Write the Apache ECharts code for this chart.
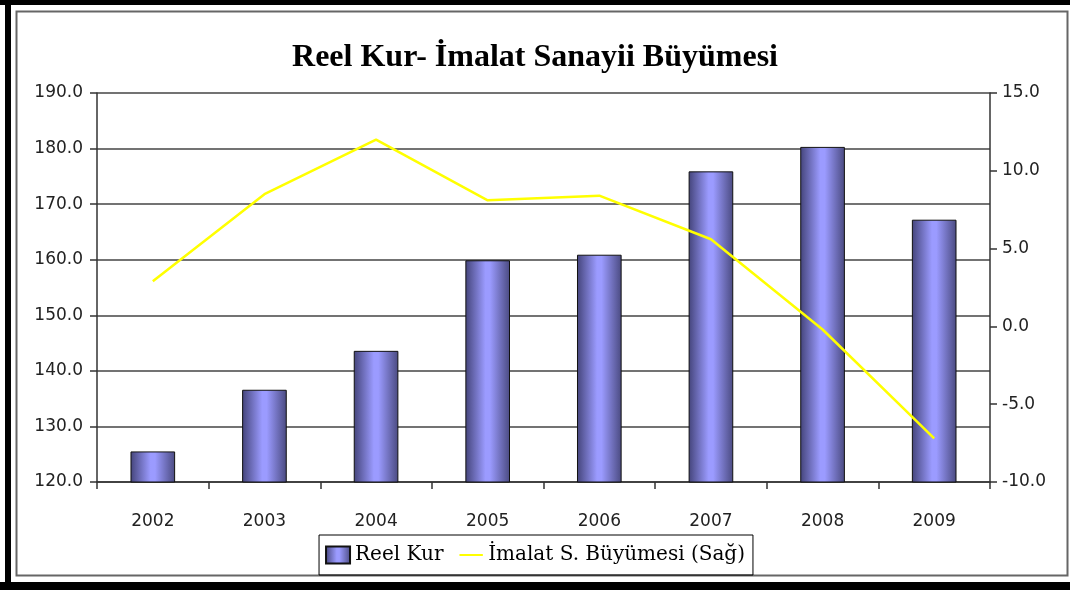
<!DOCTYPE html>
<html>
<head>
<meta charset="utf-8">
<script src="https://cdn.jsdelivr.net/npm/echarts@6/dist/echarts.min.js"></script>
<style>
  html, body { margin: 0; padding: 0; background: #fff; }
  #chart { width: 1070px; height: 590px; }
</style>
</head>
<body>
<div id="chart"></div>
<script>
var years = ['2002', '2003', '2004', '2005', '2006', '2007', '2008', '2009'];
var reelKur = [125.5, 136.6, 143.6, 159.9, 160.9, 175.9, 180.3, 167.2];
var imalat = [2.9, 8.5, 12.0, 8.1, 8.4, 5.6, -0.2, -7.2];

var dom = document.getElementById('chart');
var myChart = echarts.init(dom);

var barColor = new echarts.graphic.LinearGradient(0, 0, 1, 0, [
  {offset: 0, color: '#44447a'},
  {offset: 0.45, color: '#9b9bff'},
  {offset: 0.55, color: '#9b9bff'},
  {offset: 1, color: '#4a4a80'}
]);

// short horizontal line for the legend (padded bbox so it isn't stretched)
var lineIcon = 'path://M0,0L0.01,0M0,7L22,7L22,9L0,9ZM0,16L0.01,16';

var option = {
  backgroundColor: '#fff',
  animation: false,
  title: {
    text: 'Reel Kur- İmalat Sanayii Büyümesi',
    left: 'center',
    top: 37,
    textStyle: {
      fontFamily: 'Liberation Serif',
      fontWeight: 'bold',
      fontSize: 32,
      color: '#000'
    }
  },
  graphic: [
    // thick black outer frame
    {type: 'rect', shape: {x: 0, y: 0, width: 1070, height: 5}, style: {fill: '#000'}},
    {type: 'rect', shape: {x: 5, y: 0, width: 6, height: 590}, style: {fill: '#000'}},
    {type: 'rect', shape: {x: 0, y: 582, width: 1070, height: 8}, style: {fill: '#000'}},
    // thin gray inner border
    {type: 'rect', shape: {x: 16.5, y: 11.5, width: 1051, height: 564}, style: {fill: 'none', stroke: '#666', lineWidth: 2}}
  ],
  legend: {
    data: [
      {name: 'Reel Kur', icon: 'rect'},
      {name: 'İmalat S. Büyümesi (Sağ)', icon: lineIcon}
    ],
    bottom: 15,
    left: 'center',
    itemGap: 16,
    itemWidth: 24,
    itemHeight: 17,
    padding: [10, 8, 10, 6],
    borderColor: '#000',
    borderWidth: 1,
    textStyle: {
      fontFamily: 'DejaVu Serif',
      fontSize: 20,
      color: '#000'
    }
  },
  grid: {
    left: 97,
    right: 80,
    top: 93,
    bottom: 108
  },
  xAxis: {
    type: 'category',
    data: years,
    axisLine: {onZero: false, lineStyle: {color: '#333', width: 1.5}},
    axisTick: {show: true, length: 7, lineStyle: {color: '#333', width: 1.5}},
    axisLabel: {
      margin: 31,
      fontFamily: 'DejaVu Sans',
      fontSize: 17,
      color: '#222'
    }
  },
  yAxis: [
    {
      type: 'value',
      min: 120,
      max: 190,
      interval: 10,
      axisLine: {show: true, lineStyle: {color: '#333', width: 1.5}},
      axisTick: {show: true, length: 7, lineStyle: {color: '#333', width: 1.5}},
      splitLine: {lineStyle: {color: '#444', width: 1.5}},
      axisLabel: {
        margin: 14,
        fontFamily: 'DejaVu Sans',
        fontSize: 17,
        color: '#222',
        formatter: function (v) { return v.toFixed(1); }
      }
    },
    {
      type: 'value',
      min: -10,
      max: 15,
      interval: 5,
      position: 'right',
      axisLine: {show: true, lineStyle: {color: '#333', width: 1.5}},
      axisTick: {show: true, length: 7, lineStyle: {color: '#333', width: 1.5}},
      splitLine: {show: false},
      axisLabel: {
        margin: 12,
        fontFamily: 'DejaVu Sans',
        fontSize: 17,
        color: '#222',
        formatter: function (v) { return v.toFixed(1); }
      }
    }
  ],
  series: [
    {
      name: 'Reel Kur',
      type: 'bar',
      yAxisIndex: 0,
      data: reelKur,
      barWidth: '40%',
      itemStyle: {
        color: barColor,
        borderColor: '#111',
        borderWidth: 1
      }
    },
    {
      name: 'İmalat S. Büyümesi (Sağ)',
      type: 'line',
      yAxisIndex: 1,
      data: imalat,
      symbol: 'none',
      lineStyle: {color: '#ffff00', width: 2.5},
      itemStyle: {color: '#ffff00'}
    }
  ]
};

myChart.setOption(option, true);
</script>
</body>
</html>
